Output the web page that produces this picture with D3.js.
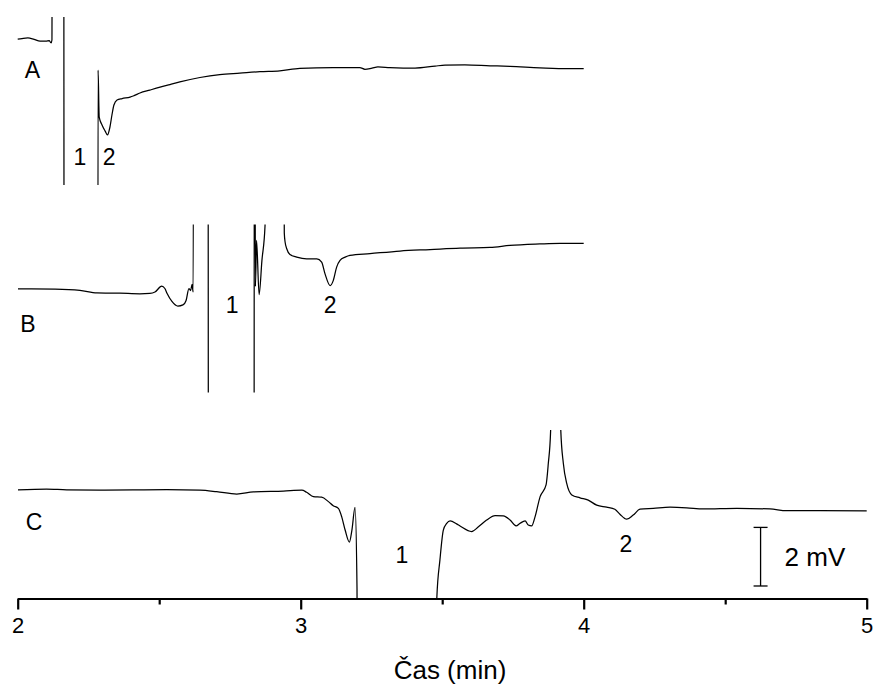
<!DOCTYPE html>
<html>
<head>
<meta charset="utf-8">
<script src="https://cdn.jsdelivr.net/npm/d3@7"></script>
<style>
body { margin: 0; background: #fff; }
.trace { fill: none; stroke: #000; stroke-width: 1.25; stroke-linejoin: round; }
text { font-family: Arial, "Liberation Sans", sans-serif; fill: #000; }
</style>
</head>
<body>
<div id="chart"></div>
<script>
// chromatogram A
var timeA = [2.000, 2.015, 2.036, 2.058, 2.079, 2.100, 2.111, 2.118, 2.121, 2.123, 2.162, 2.165, 2.282, 2.284, 2.288, 2.298, 2.309, 2.317, 2.326, 2.333, 2.340, 2.351, 2.369, 2.397, 2.411, 2.432, 2.467, 2.503, 2.538, 2.573, 2.644, 2.714, 2.785, 2.856, 2.926, 2.997, 3.114, 3.209, 3.227, 3.252, 3.273, 3.315, 3.404, 3.475, 3.510, 3.580, 3.669, 3.739, 3.845, 3.944, 4.000];
var sigA = [4.98, 5.00, 5.02, 4.97, 4.91, 4.91, 4.93, 4.85, 4.95, 20, 20, -20, -20, 3.92, 2.32, 2.05, 1.84, 1.71, 1.98, 2.39, 2.73, 2.90, 2.95, 3.00, 3.05, 3.14, 3.24, 3.34, 3.43, 3.52, 3.67, 3.77, 3.82, 3.87, 3.90, 3.98, 4.01, 4.01, 3.95, 3.99, 4.03, 4.01, 3.99, 4.06, 4.09, 4.10, 4.07, 4.05, 4.00, 3.97, 3.97];

// chromatogram B
var timeB = [2.001, 2.132, 2.220, 2.280, 2.361, 2.432, 2.467, 2.485, 2.509, 2.520, 2.528, 2.545, 2.566, 2.584, 2.595, 2.605, 2.611, 2.616, 2.620, 2.623, 2.672, 2.675, 2.834, 2.837, 2.840, 2.844, 2.853, 2.863, 2.874, 2.877, 2.936, 2.942, 2.945, 2.951, 2.962, 2.986, 3.021, 3.057, 3.074, 3.086, 3.104, 3.115, 3.127, 3.139, 3.157, 3.174, 3.245, 3.351, 3.457, 3.563, 3.669, 3.739, 3.845, 3.916, 4.000];
var sigB = [3.54, 3.53, 3.49, 3.40, 3.39, 3.37, 3.38, 3.43, 3.63, 3.55, 3.38, 3.11, 2.95, 2.99, 3.14, 3.55, 3.48, 3.69, 3.43, 20, 20, -20, -20, 20, 3.62, 5.19, 3.34, 4.51, 5.70, 20, 20, 5.45, 5.13, 4.90, 4.71, 4.62, 4.56, 4.56, 4.45, 4.05, 3.65, 3.82, 4.28, 4.51, 4.62, 4.68, 4.74, 4.83, 4.88, 4.93, 4.95, 5.02, 5.07, 5.09, 5.09];

// chromatogram C
var timeC = [2.001, 2.102, 2.173, 2.291, 2.407, 2.527, 2.644, 2.703, 2.774, 2.833, 2.939, 3.004, 3.021, 3.045, 3.074, 3.098, 3.115, 3.133, 3.145, 3.157, 3.172, 3.181, 3.192, 3.199, 3.2005, 3.4795, 3.481, 3.492, 3.504, 3.516, 3.528, 3.551, 3.563, 3.604, 3.628, 3.657, 3.687, 3.716, 3.740, 3.761, 3.775, 3.793, 3.804, 3.816, 3.828, 3.846, 3.867, 3.875, 3.883, 3.888, 3.914, 3.919, 3.928, 3.940, 3.958, 3.987, 4.016, 4.046, 4.081, 4.110, 4.128, 4.152, 4.175, 4.199, 4.246, 4.305, 4.364, 4.423, 4.541, 4.658, 4.717, 4.835, 5.000];
var sigC = [3.69, 3.72, 3.69, 3.68, 3.69, 3.70, 3.68, 3.63, 3.55, 3.62, 3.65, 3.68, 3.61, 3.46, 3.44, 3.29, 3.15, 3.06, 2.77, 2.32, 1.91, 2.32, 3.09, 0.3, -20, -20, 0.0, 1.30, 2.32, 2.55, 2.63, 2.53, 2.46, 2.27, 2.43, 2.66, 2.81, 2.80, 2.66, 2.46, 2.55, 2.63, 2.49, 2.46, 2.77, 3.46, 3.86, 4.60, 5.68, 20, 20, 5.73, 4.60, 3.91, 3.52, 3.42, 3.34, 3.17, 3.10, 3.03, 2.86, 2.69, 2.83, 3.03, 3.06, 3.10, 3.08, 3.04, 3.06, 3.04, 2.98, 2.98, 2.97];

var traceNames = ["A", "B", "C"];
var majorTicks = [2, 3, 4, 5];
var minorTicks = [2.5, 3.5, 4.5];
var xTitle = "Čas (min)";
var scaleBarMV = 2;

// peak labels: trace index, time, mV (baseline of text)
var peakLabels = [
    { trace: 0, t: 2.220, v: 0.68, text: "1" },
    { trace: 0, t: 2.323, v: 0.68, text: "2" },
    { trace: 1, t: 2.758, v: 2.70, text: "1" },
    { trace: 1, t: 3.104, v: 2.70, text: "2" },
    { trace: 2, t: 3.358, v: 1.19, text: "1" },
    { trace: 2, t: 4.149, v: 1.57, text: "2" }
];
var nameLabels = [
    { t: 2.052, v: 3.65 },
    { t: 2.036, v: 2.08 },
    { t: 2.058, v: 2.32 }
];

var W = 874, H = 689;
var panelTop = [17, 224.5, 430],
    panelH = 168,
    mvRange = 5.735;

var svg = d3.select("#chart").append("svg")
    .attr("width", W)
    .attr("height", H);

var x = d3.scaleLinear().domain([2, 5]).range([17.7, 866.7]);

var ys = panelTop.map(function (top) {
    return d3.scaleLinear().domain([0, mvRange]).range([top + panelH, top]);
});

var series = [[timeA, sigA], [timeB, sigB], [timeC, sigC]];

var defs = svg.append("defs");
series.forEach(function (s, i) {
    defs.append("clipPath").attr("id", "clip" + i)
        .append("rect")
        .attr("x", 0).attr("y", panelTop[i])
        .attr("width", W).attr("height", panelH);

    var pts = s[0].map(function (t, k) { return { t: t, v: s[1][k] }; });
    var line = d3.line()
        .x(function (d) { return x(d.t); })
        .y(function (d) { return ys[i](d.v); })
        .curve(d3.curveMonotoneX);

    svg.append("path")
        .datum(pts)
        .attr("class", "trace")
        .attr("clip-path", "url(#clip" + i + ")")
        .attr("d", line);

    svg.append("text")
        .attr("x", x(nameLabels[i].t))
        .attr("y", ys[i](nameLabels[i].v))
        .attr("text-anchor", "middle")
        .style("font-size", "23px")
        .text(traceNames[i]);
});

svg.selectAll(".peak")
    .data(peakLabels)
    .enter().append("text")
    .attr("class", "peak")
    .attr("x", function (d) { return x(d.t); })
    .attr("y", function (d) { return ys[d.trace](d.v); })
    .attr("text-anchor", "middle")
    .style("font-size", "23px")
    .text(function (d) { return d.text; });

// scale bar
var sbT = 4.625, sbLo = 0.41;
var yC = ys[2];
var bar = svg.append("g").attr("stroke", "#000").attr("stroke-width", 1.3);
bar.append("line").attr("x1", x(sbT)).attr("x2", x(sbT))
    .attr("y1", yC(sbLo)).attr("y2", yC(sbLo + scaleBarMV));
bar.append("line").attr("x1", x(sbT) - 7).attr("x2", x(sbT) + 7)
    .attr("y1", yC(sbLo)).attr("y2", yC(sbLo));
bar.append("line").attr("x1", x(sbT) - 7).attr("x2", x(sbT) + 7)
    .attr("y1", yC(sbLo + scaleBarMV)).attr("y2", yC(sbLo + scaleBarMV));
svg.append("text")
    .attr("x", x(sbT) + 24)
    .attr("y", yC(sbLo + scaleBarMV / 2) + 9)
    .style("font-size", "26px")
    .text(scaleBarMV + " mV");

// x axis
var axisY = panelTop[2] + panelH + 0.5;
var gMinor = svg.append("g")
    .attr("transform", "translate(0," + axisY + ")")
    .call(d3.axisBottom(x).tickValues(minorTicks).tickSize(6).tickSizeOuter(0).tickFormat(""));
var gAxis = svg.append("g")
    .attr("transform", "translate(0," + axisY + ")")
    .call(d3.axisBottom(x).tickValues(majorTicks).tickSize(11).tickSizeOuter(0).tickPadding(8).tickFormat(d3.format("d")));

svg.selectAll(".domain").attr("stroke-width", 2.2);
svg.selectAll(".tick line").attr("stroke-width", 2.2);
gAxis.selectAll("text")
    .style("font-family", "Arial, 'Liberation Sans', sans-serif")
    .style("font-size", "22px");

svg.append("text")
    .attr("x", 450)
    .attr("y", 679)
    .attr("text-anchor", "middle")
    .style("font-size", "26px")
    .text(xTitle);
</script>
</body>
</html>
